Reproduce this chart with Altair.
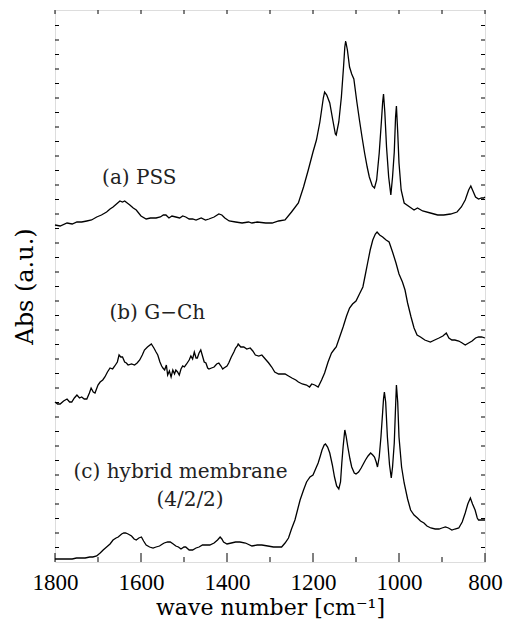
import altair as alt
import pandas as pd

# ---- spectrum (a) PSS : wavenumber [cm-1], absorbance (a.u., offset)
a_wn = [1800, 1788, 1772, 1760, 1749, 1738, 1726, 1715, 1703, 1692, 1680, 1672, 1665, 1657, 1649, 1643,
        1638, 1632, 1626, 1618, 1611, 1600, 1588, 1578, 1565, 1555, 1548, 1542, 1535, 1528, 1519, 1510,
        1503, 1496, 1488, 1480, 1472, 1460, 1450, 1442, 1430, 1419, 1412, 1405, 1395, 1380, 1365, 1350,
        1342, 1330, 1310, 1295, 1280, 1265, 1250, 1234, 1222, 1211, 1200, 1192, 1184, 1180, 1176, 1173,
        1168, 1161, 1154, 1148, 1146, 1140, 1134, 1129, 1126, 1124, 1120, 1115, 1110, 1105, 1098, 1092,
        1086, 1080, 1074, 1069, 1062, 1057, 1052, 1046, 1041, 1038, 1036, 1033, 1029, 1024, 1019, 1015,
        1011, 1008, 1006, 1003, 1000, 995, 988, 975, 965, 957, 945, 927, 910, 896, 880, 865,
        855, 846, 838, 833, 828, 822, 815, 808, 803, 800]
a_abs = [337, 336, 339, 338, 340, 340, 341, 342, 345, 347, 350, 353, 355, 358, 361, 360,
         361, 359, 357, 354, 352, 346, 343, 344, 344, 345, 347, 347, 344, 346, 345, 344,
         346, 345, 343, 343, 342, 344, 342, 343, 345, 348, 347, 344, 341, 340, 339, 340,
         339, 340, 339, 339, 341, 342, 350, 359, 375, 392, 410, 422, 440, 452, 464, 470,
         467, 459, 442, 428, 427, 440, 465, 495, 515, 521, 512, 495, 488, 483, 460, 442,
         425, 409, 395, 385, 376, 374, 382, 409, 440, 460, 468, 450, 415, 385, 367, 385,
         410, 445, 456, 430, 399, 372, 359, 355, 352, 354, 351, 349, 347, 347, 348, 350,
         355, 362, 372, 376, 371, 365, 363, 364, 364, 365]

# ---- spectrum (b) G-Ch
b_wn = [1800, 1794, 1788, 1780, 1772, 1766, 1761, 1755, 1749, 1743, 1738, 1732, 1726, 1720, 1716, 1711,
        1707, 1700, 1695, 1689, 1684, 1678, 1672, 1666, 1661, 1655, 1651, 1647, 1643, 1638, 1634, 1630,
        1622, 1615, 1609, 1603, 1597, 1592, 1585, 1576, 1570, 1565, 1561, 1556, 1552, 1549, 1545, 1541,
        1538, 1534, 1530, 1526, 1522, 1519, 1515, 1511, 1507, 1503, 1499, 1494, 1488, 1484, 1480, 1476,
        1472, 1469, 1465, 1461, 1457, 1453, 1449, 1445, 1442, 1436, 1430, 1424, 1419, 1414, 1410, 1407,
        1400, 1396, 1390, 1384, 1380, 1376, 1374, 1368, 1361, 1354, 1346, 1340, 1334, 1326, 1319, 1311,
        1303, 1296, 1289, 1280, 1272, 1265, 1257, 1249, 1240, 1234, 1225, 1215, 1208, 1203, 1196, 1188,
        1180, 1173, 1165, 1157, 1150, 1146, 1138, 1130, 1122, 1115, 1108, 1100, 1092, 1084, 1078, 1073,
        1067, 1061, 1055, 1051, 1045, 1038, 1030, 1023, 1015, 1007, 1000, 992, 986, 980, 972, 965,
        958, 950, 940, 927, 917, 907, 898, 890, 884, 877, 870, 861, 853, 846, 838, 830,
        822, 815, 808, 800]
b_abs = [160, 158, 158, 161, 163, 160, 160, 164, 167, 164, 165, 163, 163, 169, 174, 170,
         169, 177, 180, 182, 185, 190, 194, 193, 196, 200, 207, 205, 205, 200, 199, 197,
         198, 197, 199, 202, 207, 212, 215, 218, 214, 210, 207, 200, 196, 194, 192, 197,
         187, 191, 185, 192, 188, 192, 190, 187, 193, 196, 195, 198, 202, 206, 203, 210,
         204, 204, 209, 212, 206, 200, 199, 194, 193, 194, 195, 198, 199, 196, 193, 194,
         196, 199, 205, 210, 214, 216, 218, 215, 215, 213, 214, 211, 207, 206, 207, 203,
         199, 195, 190, 188, 188, 188, 186, 184, 182, 180, 178, 177, 175, 178, 177, 175,
         182, 189, 200, 209, 213, 215, 225, 235, 246, 254, 258, 261, 268, 275, 288, 299,
         312, 322, 328, 330, 327, 325, 322, 320, 310, 299, 288, 280, 272, 259, 245, 234,
         227, 225, 222, 220, 222, 224, 226, 229, 224, 222, 222, 221, 219, 217, 219, 221,
         224, 225, 225, 224]

# ---- spectrum (c) hybrid membrane (4/2/2)
c_wn = [1800, 1790, 1780, 1772, 1760, 1750, 1742, 1730, 1719, 1712, 1703, 1695, 1688, 1680, 1672, 1665,
        1658, 1653, 1645, 1640, 1636, 1630, 1622, 1616, 1611, 1605, 1599, 1594, 1588, 1580, 1572, 1565,
        1557, 1550, 1546, 1538, 1532, 1525, 1519, 1513, 1507, 1500, 1496, 1488, 1480, 1472, 1465, 1457,
        1449, 1440, 1430, 1422, 1416, 1412, 1408, 1400, 1390, 1380, 1370, 1357, 1342, 1330, 1319, 1305,
        1292, 1280, 1273, 1265, 1257, 1250, 1242, 1236, 1230, 1222, 1215, 1207, 1200, 1194, 1188, 1183,
        1179, 1174, 1171, 1166, 1161, 1155, 1150, 1145, 1140, 1136, 1133, 1130, 1127, 1126, 1123, 1119,
        1114, 1110, 1104, 1100, 1094, 1088, 1083, 1078, 1072, 1066, 1061, 1057, 1053, 1050, 1046, 1042,
        1038, 1036, 1034, 1031, 1027, 1022, 1018, 1015, 1011, 1008, 1006, 1003, 1000, 994, 988, 980,
        973, 965, 957, 950, 942, 935, 926, 916, 907, 900, 892, 885, 877, 870, 861, 853,
        846, 840, 834, 829, 823, 818, 815, 808, 803, 800]
c_abs = [3, 3, 3, 3, 3, 4, 4, 4, 5, 5, 6, 9, 12, 15, 18, 22,
         24, 25, 28, 29, 29, 28, 26, 23, 22, 24, 25, 21, 17, 15, 14, 15,
         16, 18, 19, 20, 20, 18, 16, 15, 13, 15, 15, 12, 12, 14, 15, 17,
         17, 17, 19, 22, 25, 23, 20, 18, 19, 20, 20, 19, 16, 17, 17, 16,
         15, 15, 15, 19, 24, 33, 42, 52, 62, 72, 80, 85, 87, 93, 99, 106,
         112, 117, 118, 115, 109, 97, 85, 76, 73, 80, 99, 115, 128, 132, 126, 115,
         103, 95, 89, 88, 90, 94, 98, 102, 106, 109, 107, 105, 100, 95, 105, 125,
         150, 163, 170, 160, 125, 97, 84, 95, 119, 155, 177, 160, 125, 95, 79, 63,
         52, 47, 44, 41, 39, 36, 34, 33, 33, 34, 35, 34, 32, 33, 34, 40,
         49, 58, 64, 58, 52, 44, 42, 42, 42, 42]

# ---- annotations
label_text = ["(a) PSS", "(b) G\u2212Ch", "(c) hybrid membrane", "(4/2/2)"]
label_wn = [1604, 1562, 1508, 1486]
label_abs = [384, 249, 90, 62]

# ---- axis ticks
x_major = [1800, 1600, 1400, 1200, 1000, 800]
x_minor = [1700, 1500, 1300, 1100, 900]
y_ticks = [14.5 * k for k in range(1, 38)]

W, H = 430, 552
SERIF = "DejaVu Serif"

df = pd.concat([
    pd.DataFrame({"wn": a_wn, "abs": a_abs, "s": "a"}),
    pd.DataFrame({"wn": b_wn, "abs": b_abs, "s": "b"}),
    pd.DataFrame({"wn": c_wn, "abs": c_abs, "s": "c"}),
])
labels = pd.DataFrame({"wn": label_wn, "abs": label_abs, "t": label_text})

xs = alt.Scale(domain=[800, 1800], reverse=True, nice=False, zero=False)
ys = alt.Scale(domain=[0, H], nice=False, zero=False)

lines = alt.Chart(df).mark_line(color="black", strokeWidth=1.3).encode(
    x=alt.X("wn:Q", scale=xs,
            axis=alt.Axis(values=x_major, format="d", title="wave number [cm\u207b\u00b9]",
                          ticks=False, domain=False, grid=False, labelFlush=False,
                          labelFont="Liberation Serif", labelFontSize=23, labelColor="black",
                          labelPadding=9, titleFont=SERIF, titleFontSize=22,
                          titleFontWeight="normal", titleColor="black", titlePadding=3)),
    y=alt.Y("abs:Q", scale=ys,
            axis=alt.Axis(labels=False, ticks=False, domain=False, grid=False,
                          title="Abs (a.u.)", titleFont=SERIF, titleFontSize=24,
                          titleFontWeight="normal", titleColor="black", titlePadding=18)),
    detail="s:N",
)

text = alt.Chart(labels).mark_text(font=SERIF, fontSize=20, color="#222222",
                                   align="center", baseline="middle").encode(
    x=alt.X("wn:Q", scale=xs), y=alt.Y("abs:Q", scale=ys), text="t:N")

tick_major = alt.Chart(pd.DataFrame({"wn": x_major})).mark_rule(color="black", strokeWidth=1).encode(
    x=alt.X("wn:Q", scale=xs), y=alt.value(H), y2=alt.value(H - 9))
tick_minor = alt.Chart(pd.DataFrame({"wn": x_minor})).mark_rule(color="black", strokeWidth=1).encode(
    x=alt.X("wn:Q", scale=xs), y=alt.value(H), y2=alt.value(H - 5))
tick_top = alt.Chart(pd.DataFrame({"wn": x_major + x_minor})).mark_rule(color="black", strokeWidth=1).encode(
    x=alt.X("wn:Q", scale=xs), y=alt.value(0), y2=alt.value(4))
tick_left = alt.Chart(pd.DataFrame({"v": y_ticks})).mark_rule(color="black", strokeWidth=1).encode(
    y=alt.Y("v:Q", scale=ys), x=alt.value(0), x2=alt.value(4))
tick_right = alt.Chart(pd.DataFrame({"v": y_ticks})).mark_rule(color="black", strokeWidth=1).encode(
    y=alt.Y("v:Q", scale=ys), x=alt.value(W), x2=alt.value(W - 4))

chart = alt.layer(lines, text, tick_major, tick_minor, tick_top, tick_left, tick_right).properties(
    width=W, height=H,
    padding={"left": 47, "top": 2, "right": 18, "bottom": 60},
    autosize=alt.AutoSizeParams(type="none"),
).configure_view(stroke="black", strokeWidth=1.5).configure(background="white")

chart.save("out.html", embed_options={"renderer": "svg", "actions": False})
